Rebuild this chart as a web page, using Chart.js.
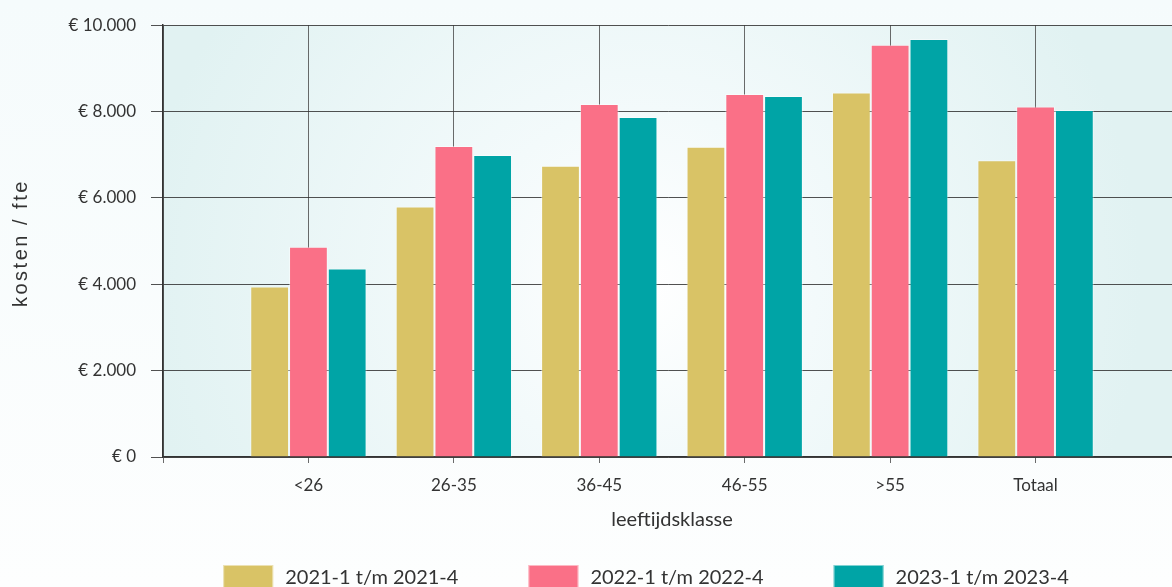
<!DOCTYPE html>
<html>
<head>
<meta charset="utf-8">
<script src="https://cdn.jsdelivr.net/npm/chart.js@4"></script>
<style>
  html, body { margin: 0; padding: 0; overflow: hidden; }
  body { background: linear-gradient(#f5fbfc, #fdfefe); width: 1172px; height: 587px; }
  #wrap { width: 1172px; height: 600px; }
  canvas { display: block; }
</style>
</head>
<body>
<div id="wrap"><canvas id="chart_costs"></canvas></div>
<script>
// Data
const categories = ['', '<26', '26-35', '36-45', '46-55', '>55', 'Totaal', ''];
const seriesNames = ['2021-1 t/m 2021-4', '2022-1 t/m 2022-4', '2023-1 t/m 2023-4'];
const costs2021 = [null, 3950, 5800, 6745, 7185, 8440, 6875, null];
const costs2022 = [null, 4870, 7205, 8175, 8405, 9545, 8120, null];
const costs2023 = [null, 4365, 6995, 7875, 8360, 9680, 8035, null];
const yTicks = [0, 2000, 4000, 6000, 8000, 10000];
const yTitle = 'kosten / fte';
const xTitle = 'leeftijdsklasse';

const barColors = ['#d9c366', '#fa7087', '#00a4a6'];
const fontFam = 'Lato, "Noto Sans", sans-serif';
const textColor = '#333';
const plotRight = 1181; // plot runs a bit past the right edge of the picture

// Stretch the x axis so the last (empty) category sits just outside the picture
const widenPlot = {
    id: 'widenPlot',
    afterLayout(chart) {
        const xs = chart.scales.x;
        xs.right = plotRight;
        xs.width = xs.right - xs.left;
        xs.configure();
        chart.chartArea.right = plotRight;
        chart.chartArea.width = plotRight - chart.chartArea.left;
    }
};

// Plot area background: soft radial gradient
const plotBackground = {
    id: 'plotBackground',
    beforeDraw(chart) {
        const {ctx, chartArea: a} = chart;
        const cx = a.left + (a.right - a.left) * 0.47;
        const cy = a.top + (a.bottom - a.top) * 0.6;
        const g = ctx.createRadialGradient(cx, cy, 0, cx, cy, 500);
        g.addColorStop(0, '#ffffff');
        g.addColorStop(0.35, '#f3fafb');
        g.addColorStop(1, '#e1f2f2');
        ctx.save();
        ctx.fillStyle = g;
        ctx.fillRect(a.left, a.top, a.right - a.left, a.bottom - a.top);
        ctx.restore();
    }
};

// Rotated y-axis title with wider letter spacing
const yAxisTitle = {
    id: 'yAxisTitle',
    afterDraw(chart) {
        const {ctx, chartArea: a} = chart;
        ctx.save();
        ctx.translate(21, (a.top + a.bottom) / 2 + 2);
        ctx.rotate(-Math.PI / 2);
        ctx.font = '20px "Liberation Sans", Arial, sans-serif';
        ctx.letterSpacing = '2.5px';
        ctx.fillStyle = textColor;
        ctx.textAlign = 'center';
        ctx.textBaseline = 'middle';
        ctx.fillText(yTitle, 0, 0);
        ctx.restore();
    }
};

// Legend drawn under the axis title, with wide gaps between items
const bottomLegend = {
    id: 'bottomLegend',
    afterDraw(chart) {
        const ctx = chart.ctx;
        const boxW = 50, boxH = 26, textGap = 12, itemGap = 70;
        const top = 565;
        ctx.save();
        ctx.font = '20px ' + fontFam;
        const widths = chart.data.datasets.map(ds => ctx.measureText(ds.label).width);
        const total = widths.reduce((s, w) => s + boxW + textGap + w, 0) + itemGap * (widths.length - 1);
        let x = 646 - total / 2;
        chart.data.datasets.forEach((ds, i) => {
            ctx.fillStyle = ds.backgroundColor;
            ctx.fillRect(x, top, boxW, boxH);
            ctx.strokeStyle = 'rgba(255,255,255,0.5)';
            ctx.strokeRect(x + 0.5, top + 0.5, boxW - 1, boxH - 1);
            ctx.fillStyle = textColor;
            ctx.textBaseline = 'middle';
            ctx.fillText(ds.label, x + boxW + textGap, top + 13);
            x += boxW + textGap + widths[i] + itemGap;
        });
        ctx.restore();
    }
};

function euro(v) { // format as "€ 10.000"
    return '€ ' + v.toLocaleString('de-DE');
}

const ctx = document.getElementById('chart_costs').getContext('2d');
const costChart = new Chart(ctx, {
    type: 'bar',
    data: {
        labels: categories,
        datasets: [costs2021, costs2022, costs2023].map((d, i) => ({
            label: seriesNames[i],
            data: d,
            backgroundColor: barColors[i],
            borderColor: 'rgba(255,255,255,0.45)',
            borderWidth: 1,
            categoryPercentage: 0.8,
            barPercentage: 1.0
        }))
    },
    options: {
        responsive: true,
        maintainAspectRatio: false,
        animation: false,
        layout: { padding: { top: 24, right: 0, bottom: 60, left: 0 } },
        plugins: {
            tooltip: { enabled: false },
            legend: { display: false }
        },
        scales: {
            x: {
                offset: false,
                afterFit(axis) { axis.height = 83; },
                grid: {
                    offset: false,
                    color: 'rgba(70,70,70,0.8)',
                    lineWidth: 1,
                    tickLength: 6
                },
                border: { color: '#333', width: 1.5 },
                ticks: {
                    color: textColor,
                    padding: 12,
                    maxRotation: 0,
                    autoSkip: false,
                    font: { family: fontFam, size: 17 }
                },
                title: {
                    display: true,
                    text: xTitle,
                    color: textColor,
                    padding: { top: 0, bottom: 8 },
                    font: { family: fontFam, size: 20 }
                }
            },
            y: {
                min: 0,
                max: 10000,
                afterBuildTicks(axis) { axis.ticks = yTicks.map(v => ({value: v})); },
                afterFit(axis) { axis.width = 163; },
                grid: {
                    color: 'rgba(50,50,50,0.85)',
                    lineWidth: 1,
                    tickLength: 12
                },
                border: { color: '#333', width: 1.5 },
                ticks: {
                    color: textColor,
                    padding: 15,
                    callback: v => euro(v),
                    font: { family: fontFam, size: 17 }
                },
                title: { display: false }
            }
        }
    },
    plugins: [widenPlot, plotBackground, yAxisTitle, bottomLegend]
});
</script>
</body>
</html>
